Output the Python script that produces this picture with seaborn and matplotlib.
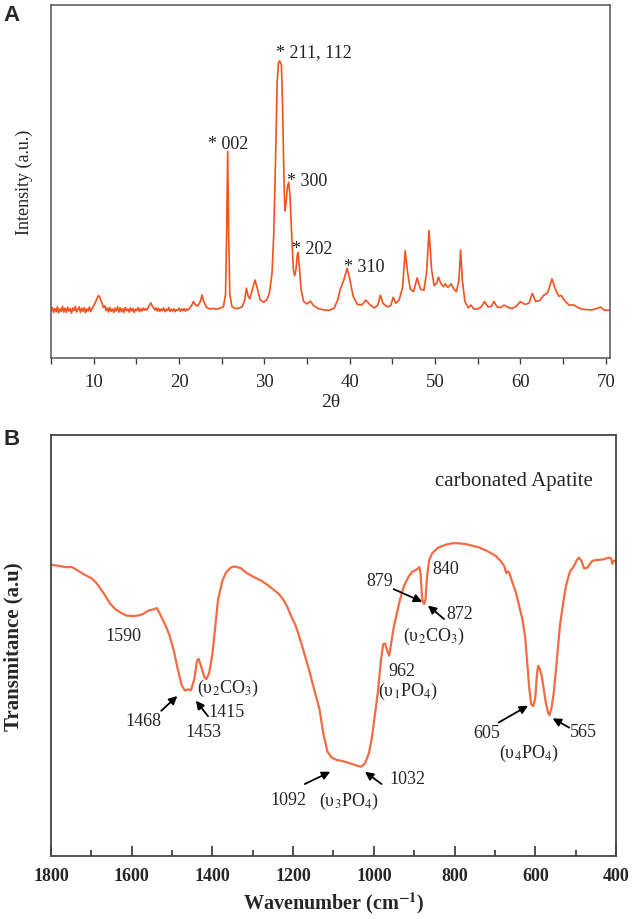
import matplotlib
matplotlib.use('Agg')
import matplotlib.pyplot as plt
import seaborn as sns
import pandas as pd

sns.set_style('white')
plt.rcParams['font.family'] = ['Liberation Serif', 'DejaVu Serif']
plt.rcParams['mathtext.fontset'] = 'stix'

# XRD pattern (panel A)
two_theta = [5.0, 5.15, 5.3, 5.45, 5.6, 5.75, 5.9, 6.05, 6.2, 6.35, 6.5, 6.65, 6.8, 6.95, 7.1,
             7.25, 7.4, 7.55, 7.7, 7.85, 8.0, 8.15, 8.3, 8.45, 8.6, 8.75, 8.9, 9.05, 9.2, 9.35,
             9.5, 9.65, 9.8, 9.95, 10.1, 10.25, 10.4, 10.55, 10.7, 10.85, 11.0, 11.15, 11.3, 11.45,
             11.6, 11.75, 11.9, 12.05, 12.2, 12.35, 12.5, 12.65, 12.8, 12.95, 13.1, 13.25, 13.4,
             13.55, 13.7, 13.85, 14.0, 14.15, 14.3, 14.45, 14.6, 14.75, 14.9, 15.05, 15.2, 15.35,
             15.5, 15.65, 15.8, 15.95, 16.1, 16.25, 16.4, 16.55, 16.7, 16.85, 17.0, 17.15, 17.3,
             17.45, 17.6, 17.75, 17.9, 18.05, 18.2, 18.35, 18.5, 18.65, 18.8, 18.95, 19.1, 19.25,
             19.4, 19.55, 19.7, 19.85, 20.0, 20.15, 20.3, 20.45, 20.6, 20.75, 20.9, 21.05, 21.2,
             21.5, 21.7, 21.9,
             22.2, 22.5, 22.7, 22.9, 23.2, 23.6, 24.0, 24.4, 24.8, 25.2, 25.45, 25.58, 25.7, 25.82,
             25.95, 26.2, 26.6, 27.0, 27.4, 27.7, 27.9, 28.1, 28.3, 28.6, 28.9, 29.2, 29.5, 29.9,
             30.3, 30.6, 30.9, 31.1, 31.3, 31.5, 31.65, 31.8, 32.0, 32.15, 32.3, 32.4, 32.55, 32.7,
             32.85, 33.0, 33.2, 33.4, 33.55, 33.7, 33.85, 33.95, 34.1, 34.3, 34.6, 35.0, 35.4, 35.8,
             36.3, 37.0, 37.6, 38.2, 38.6, 38.9, 39.3, 39.7, 40.0, 40.4, 40.9, 41.4, 41.9, 42.4,
             42.9, 43.3, 43.6, 43.9, 44.4, 44.8, 45.1, 45.4, 45.8, 46.2, 46.5, 46.8, 47.1, 47.5,
             47.9, 48.3, 48.7, 49.0, 49.3, 49.6, 49.9, 50.2, 50.4, 50.7, 51.0, 51.2, 51.5, 51.9,
             52.2, 52.5, 52.8, 53.0, 53.2, 53.5, 53.9, 54.2, 54.6, 55.0, 55.4, 55.8, 56.2, 56.6,
             56.9, 57.3, 57.7, 58.1, 58.5, 59.0, 59.5, 60.0, 60.5, 61.0, 61.4, 61.8, 62.3, 62.7,
             63.2, 63.7, 64.1, 64.5, 64.8, 65.2, 65.7, 66.3, 66.8, 67.3, 67.8, 68.3, 68.8, 69.4,
             69.8, 70.4]
intensity = [13.4, 14.3, 12.9, 14.0, 13.1, 14.5, 12.8, 13.9, 13.2, 14.6, 13.0, 14.1, 12.9, 14.4, 13.3,
             14.0, 12.7, 14.2, 13.4, 14.6, 13.0, 13.8, 14.5, 12.9, 14.1, 13.2, 14.3, 12.8, 13.9, 13.3,
             14.4, 13.1, 14.0, 14.6, 15.3, 16.0, 16.9, 17.7, 17.3, 16.2, 15.4, 14.3, 14.8, 13.4,
             14.2, 13.0, 14.3, 13.2, 13.9, 12.9, 14.1, 13.3, 14.5, 13.0, 14.2, 13.1, 14.0,
             12.9, 14.3, 13.4, 13.9, 13.0, 14.2, 13.3, 14.0, 12.9, 13.8, 13.4, 14.3, 13.1,
             14.0, 13.3, 14.1, 13.5, 14.0, 13.6, 14.4, 15.0, 15.6, 14.8, 14.3, 13.6, 14.2,
             13.3, 14.1, 13.2, 13.9, 13.4, 14.2, 13.1, 13.8, 13.4, 14.3, 13.2, 13.8, 13.3,
             14.0, 13.1, 13.7, 13.5, 14.1, 13.2, 13.9, 13.4, 14.0, 13.3, 13.9, 13.6, 14.0,
             15.0, 16.0, 15.1,
             14.7, 16.0, 17.8, 16.0, 14.4, 13.9, 14.0, 13.8, 14.1, 14.5, 18.0, 35.0, 58.5, 35.0,
             18.0, 14.6, 14.0, 14.1, 14.5, 16.5, 19.8, 17.5, 16.8, 19.5, 22.1, 19.5, 16.5, 15.8,
             16.5, 18.5, 24.0, 35.0, 55.0, 78.0, 83.5, 84.2, 83.0, 70.0, 50.0, 41.7, 44.0, 48.5,
             49.8, 46.0, 35.0, 25.0, 23.3, 25.0, 29.0, 29.9, 26.0, 19.5, 16.0, 15.3, 16.1, 14.8,
             14.0, 13.6, 13.5, 14.2, 16.5, 19.5, 22.0, 25.4, 22.5, 17.5, 15.2, 15.0, 16.4, 15.0,
             14.2, 15.0, 17.8, 15.5, 14.5, 14.8, 17.2, 15.5, 16.5, 20.0, 30.4, 24.0, 19.5, 18.8,
             22.7, 19.5, 19.2, 24.0, 36.1, 25.0, 20.5, 21.2, 22.9, 21.0, 20.2, 21.0, 20.0, 21.0,
             19.5, 18.8, 22.0, 30.6, 22.0, 16.0, 14.2, 15.0, 13.8, 13.9, 14.4, 16.0, 14.5, 14.6,
             16.0, 14.4, 14.3, 15.0, 14.4, 14.0, 14.6, 16.0, 15.2, 15.5, 18.3, 16.0, 16.3, 17.7,
             18.5, 22.4, 19.5, 17.5, 17.7, 16.2, 15.0, 15.0, 14.2, 13.8, 13.7, 13.6, 13.9, 14.4,
             13.6, 13.5]

# FTIR spectrum (panel B)
wavenumber = [1800, 1780, 1760, 1750, 1740, 1720, 1700, 1687, 1670, 1654, 1640, 1629, 1613, 1595,
              1580, 1570, 1559, 1545, 1538, 1530, 1526, 1515, 1506, 1495, 1486, 1476, 1468, 1460,
              1453, 1445, 1438, 1434, 1428, 1420, 1415, 1408, 1400, 1386, 1375, 1366, 1355, 1345,
              1330, 1316, 1300, 1279, 1265, 1250, 1235, 1225, 1215, 1205, 1195, 1188, 1175, 1160,
              1145, 1135, 1125, 1115, 1105, 1092, 1080, 1065, 1055, 1040, 1032, 1022, 1012, 1005,
              998, 990, 983, 977, 972, 966, 962, 957, 950, 942, 935, 925, 915, 905, 895, 887, 884,
              881, 879, 875, 872, 868, 863, 855, 840, 820, 805, 790, 772, 755, 739, 720, 698, 685,
              677, 672, 668, 665, 655, 648, 640, 632, 625, 620, 615, 610, 605, 600, 596, 593, 589,
              584, 578, 574, 568, 565, 560, 554, 547, 539, 531, 524, 514, 504, 497, 492, 485, 479,
              471, 465, 459, 450, 438, 430, 418, 412, 409, 405, 400]
transmittance = [69.2, 68.9, 68.6, 68.7, 68.2, 67.0, 66.0, 64.8, 62.5, 60.0, 58.6, 57.9, 57.1, 57.0,
                 57.2, 57.6, 58.3, 58.6, 58.9, 57.5, 56.7, 54.5, 52.3, 48.5, 44.4, 40.5, 39.3, 39.6,
                 39.4, 42.0, 46.5, 46.8, 45.0, 42.5, 42.0, 43.5, 48.0, 61.0, 65.5, 67.4, 68.5, 68.8,
                 68.4, 67.3, 66.4, 65.4, 64.5, 63.4, 62.2, 61.0, 59.3, 57.0, 55.0, 53.1, 49.0, 44.0,
                 38.5, 35.0, 29.0, 24.8, 23.4, 22.8, 22.6, 22.2, 21.9, 21.4, 21.2, 22.0, 24.5, 28.0,
                 33.0, 38.9, 46.0, 50.3, 50.5, 48.5, 47.6, 50.5, 54.7, 58.0, 61.0, 64.2, 66.2, 67.5,
                 68.0, 68.6, 67.0, 62.0, 60.4, 59.9, 61.0, 66.5, 70.3, 72.0, 73.3, 74.0, 74.3, 74.3,
                 74.1, 73.7, 73.3, 72.5, 71.3, 70.0, 68.9, 67.2, 67.6, 67.4, 64.5, 62.6, 59.5, 56.3,
                 52.0, 46.0, 40.0, 36.0, 35.6, 37.5, 43.0, 45.2, 44.5, 42.8, 39.0, 36.5, 34.0, 33.5,
                 35.0, 38.9, 46.0, 54.7, 60.0, 64.2, 67.6, 68.9, 70.3, 70.9, 70.0, 68.3, 68.5, 69.3,
                 70.1, 70.3, 70.4, 70.5, 70.9, 70.7, 69.4, 70.2, 70.0]

xrd_labels = ['* 002', '* 211, 112', '* 300', '* 202', '* 310']
xrd_label_pos = [(25.7, 60.9), (35.8, 86.8), (35.0, 50.2), (35.65, 30.9), (41.7, 26.0)]

xrd = pd.DataFrame({'two_theta': two_theta, 'intensity': intensity})
ftir = pd.DataFrame({'wavenumber': wavenumber, 'transmittance': transmittance})

fig = plt.figure(figsize=(6.33, 9.2), dpi=100)

'''
Panel A - XRD
'''
axA = fig.add_axes([0.0806, 0.6098, 0.883, 0.3837])
sns.lineplot(data=xrd, x='two_theta', y='intensity', ax=axA, color='#f4511e',
             lw=1.2, estimator=None, sort=False)
axA.set_xlim(5, 70.5)
axA.set_ylim(0, 100)
axA.set_xticks(range(10, 71, 10))
axA.set_xticks(range(5, 71, 10), minor=True)
axA.set_yticks([])
axA.tick_params(axis='x', which='both', direction='out', bottom=True, length=4,
                width=1, color='#444444', labelsize=13.5, pad=7)
axA.set_xlabel('2θ', fontsize=14, va='center')
axA.xaxis.set_label_coords(0.5, -0.122)
axA.set_ylabel('Intensity (a.u.)', fontsize=13, va='center')
axA.yaxis.set_label_coords(-0.048, 0.5)
for sp in axA.spines.values():
    sp.set_color('#555555')
    sp.set_linewidth(1.1)
for lab, (x, y) in zip(xrd_labels, xrd_label_pos):
    axA.text(x, y, lab, ha='center', va='center', fontsize=13, color='#222222')
fig.text(0.006, 0.983, 'A', fontsize=16, fontweight='bold', family='Liberation Sans',
         va='center')

'''
Panel B - FTIR
'''
axB = fig.add_axes([0.0806, 0.0685, 0.8925, 0.4575])
sns.lineplot(data=ftir, x='wavenumber', y='transmittance', ax=axB, color='#f26b43',
             lw=1.6, estimator=None, sort=False)
axB.set_xlim(1800, 400)
axB.set_ylim(0, 100)
axB.set_xticks(range(1800, 399, -200))
axB.set_xticks(range(1700, 400, -200), minor=True)
axB.set_yticks([])
axB.tick_params(axis='x', which='major', direction='in', bottom=True, length=7,
                width=1.2, color='#333333', labelsize=13, pad=8)
axB.tick_params(axis='x', which='minor', direction='in', bottom=True, length=4,
                width=1.2, color='#333333')
for t in axB.get_xticklabels():
    t.set_fontweight('bold')
axB.set_xlabel('Wavenumber (cm$^{\\mathbf{-1}}$)', fontsize=14.5, fontweight='bold',
               va='center')
axB.xaxis.set_label_coords(0.5, -0.109)
axB.set_ylabel('Transmitance (a.u)', fontsize=15, fontweight='bold', va='center')
axB.yaxis.set_label_coords(-0.066, 0.5)
for sp in axB.spines.values():
    sp.set_color('#444444')
    sp.set_linewidth(1.3)
fig.text(0.006, 0.522, 'B', fontsize=16, fontweight='bold', family='Liberation Sans',
         va='center')

axB.text(653, 89.1, 'carbonated Apatite', ha='center', va='center', fontsize=15)

ftir_text = [
    ('1590', 1621, 52.5), ('1468', 1572, 32.1), ('1453', 1421, 29.5),
    ('(υ$_2$CO$_3$)', 1361, 40.0), ('1415', 1366, 34.3),
    ('879', 986, 65.4), ('840', 821, 68.2), ('872', 786, 57.5),
    ('(υ$_2$CO$_3$)', 851, 52.5), ('962', 931, 44.0), ('(υ$_1$PO$_4$)', 916, 39.3),
    ('605', 721, 29.4), ('565', 480, 29.5), ('(υ$_4$PO$_4$)', 616, 24.6),
    ('1092', 1211, 13.5), ('1032', 916, 18.3), ('(υ$_3$PO$_4$)', 1061, 13.1),
]
for lab, x, y in ftir_text:
    axB.text(x, y, lab, ha='center', va='center', fontsize=13)

arrows = [
    ((1527, 34.5), (1487, 38.0)),
    ((1411, 33.2), (1441, 36.9)),
    ((951, 63.4), (880, 60.4)),
    ((826, 56.3), (866, 59.5)),
    ((691, 31.7), (618, 35.7)),
    ((516, 30.5), (557, 32.7)),
    ((1171, 17.1), (1108, 20.0)),
    ((981, 17.1), (1022, 20.0)),
]
for tail, tip in arrows:
    axB.annotate('', xy=tip, xytext=tail,
                 arrowprops=dict(arrowstyle='-|>', color='black', lw=1.3,
                                 mutation_scale=12, shrinkA=0, shrinkB=0))

plt.savefig('out.png', dpi=100)
